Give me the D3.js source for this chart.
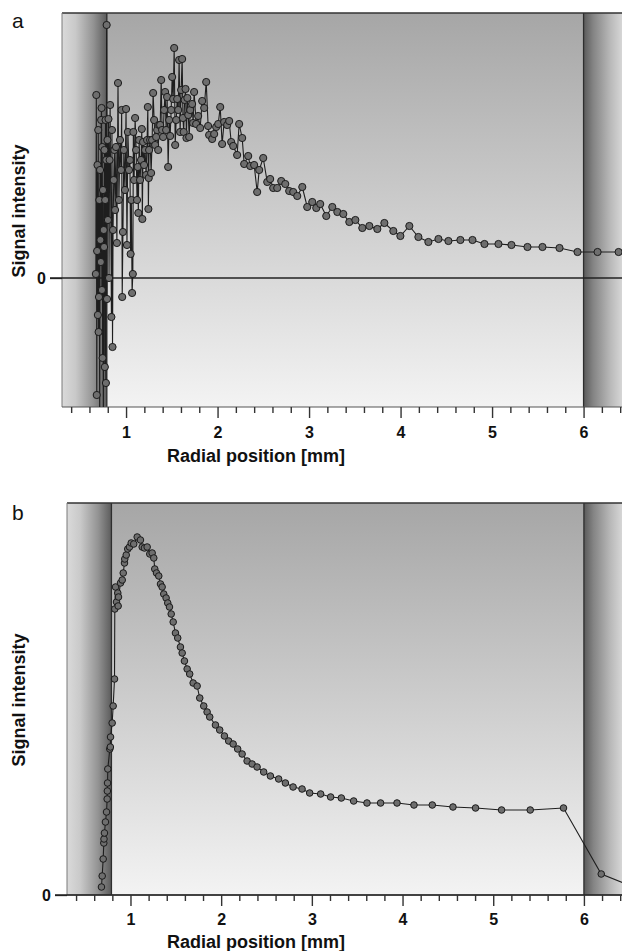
<!DOCTYPE html>
<html>
<head>
<meta charset="utf-8">
<title>Signal intensity profiles</title>
<script src="https://cdn.jsdelivr.net/npm/d3@7"></script>
<style>
  body { margin: 0; background: #fff; }
  svg { display: block; font-family: "Liberation Sans", Arial, sans-serif; }
</style>
</head>
<body>
<div id="chart"></div>
<script>
// values: radial position [mm], signal intensity [a.u.]
var radialA = [
  0.670,0.675,0.680,0.684,0.688,0.692,0.696,0.700,0.704,0.708,
  0.712,0.716,0.720,0.724,0.728,0.732,0.736,0.740,0.744,0.748,
  0.752,0.756,0.760,0.764,0.768,0.772,0.776,0.780,0.784,0.788,
  0.792,0.797,0.802,0.808,0.814,0.820,0.826,0.840,0.846,0.852,
  0.858,0.865,0.872,0.880,0.890,0.900,0.912,0.922,0.934,0.945,
  0.952,0.958,0.966,0.976,0.988,1.000,1.010,1.020,1.032,1.042,
  1.050,1.058,1.066,1.074,1.080,1.088,1.099,1.110,1.120,1.128,
  1.134,1.143,1.153,1.164,1.172,1.178,1.186,1.197,1.208,1.219,
  1.230,1.238,1.244,1.248,1.252,1.263,1.274,1.285,1.296,1.307,
  1.318,1.329,1.340,1.351,1.362,1.373,1.384,1.394,1.405,1.416,
  1.427,1.438,1.449,1.460,1.471,1.482,1.493,1.504,1.515,1.526,
  1.537,1.548,1.559,1.570,1.580,1.591,1.602,1.613,1.622,1.630,
  1.640,1.650,1.660,1.670,1.680,1.690,1.701,1.722,1.733,1.744,
  1.766,1.788,1.810,1.832,1.854,1.876,1.897,1.908,1.941,1.963,
  1.985,2.007,2.029,2.050,2.072,2.105,2.127,2.149,2.171,2.214,
  2.236,2.269,2.291,2.335,2.357,2.400,2.433,2.455,2.499,2.543,
  2.575,2.608,2.652,2.696,2.740,2.783,2.827,2.871,2.926,2.980,
  3.035,3.079,3.122,3.188,3.254,3.309,3.374,3.440,3.506,3.582,
  3.659,3.746,3.823,3.921,3.998,4.096,4.195,4.304,4.414,4.523,
  4.654,4.786,4.917,5.070,5.212,5.387,5.551,5.737,5.934,6.153,
  6.383
];
var signalA = [
  4,183,-117,27,113,-37,148,-54,-19,78,
  -160,108,38,16,158,170,-12,131,-80,88,
  -150,48,31,128,-89,78,158,-105,118,253,
  -21,138,58,159,0,118,173,-39,148,-69,
  48,98,128,68,131,35,195,78,138,108,
  168,-19,46,128,88,169,33,146,108,118,
  24,78,-15,4,146,98,160,128,78,111,
  65,138,98,118,149,59,136,113,128,103,
  138,171,69,100,128,138,105,138,185,158,
  133,141,148,128,153,153,198,148,141,168,
  186,148,181,111,158,142,168,201,179,230,
  133,158,179,168,218,146,188,219,160,146,
  178,189,140,180,163,141,168,174,155,186,
  154,162,150,177,170,196,152,143,139,144,
  151,154,171,134,156,153,157,136,132,123,
  154,140,114,122,112,113,86,108,120,96,
  99,90,90,97,94,87,86,82,91,71,
  76,70,74,62,71,66,64,56,58,50,
  52,49,55,47,42,52,41,36,39,37,
  38,38,34,34,33,31,31,30,26,26,
  26
];

var radialB = [
  0.680,0.688,0.699,0.706,0.708,0.713,0.724,0.736,0.743,0.745,
  0.747,0.750,0.772,0.778,0.780,0.798,0.809,0.824,0.827,0.835,
  0.846,0.860,0.864,0.868,0.890,0.909,0.920,0.934,0.937,0.953,
  0.970,0.989,1.008,1.036,1.074,1.110,1.129,1.154,1.184,1.213,
  1.239,1.257,1.268,1.287,1.312,1.331,1.349,1.367,1.393,1.411,
  1.430,1.449,1.471,1.496,1.521,1.551,1.570,1.595,1.625,1.653,
  1.691,1.735,1.764,1.808,1.845,1.874,1.937,1.984,2.036,2.083,
  2.132,2.182,2.231,2.286,2.341,2.396,2.469,2.543,2.634,2.708,
  2.793,2.892,2.976,3.097,3.207,3.325,3.461,3.608,3.758,3.939,
  4.126,4.328,4.556,4.805,5.092,5.408,5.775,6.191,6.599
];
var signalB = [
  8,19,36,52,56,62,73,83,96,104,
  112,126,146,148,158,172,189,216,286,308,
  293,302,289,298,312,315,322,332,336,340,
  346,348,352,351,358,355,348,347,348,341,
  342,337,326,322,319,311,308,301,297,292,
  288,281,273,262,257,248,242,234,226,221,
  212,209,197,189,183,178,170,165,159,154,
  151,146,141,134,131,128,123,119,116,112,
  108,106,102,101,98,97,94,92,92,92,
  90,90,88,87,85,85,87,21,6
];

var majorTicks = [1, 2, 3, 4, 5, 6];
var minorTicks = [0.4, 0.6, 0.8, 1.2, 1.4, 1.6, 1.8, 2.2, 2.4, 2.6, 2.8,
                  3.2, 3.4, 3.6, 3.8, 4.2, 4.4, 4.6, 4.8, 5.2, 5.4, 5.6, 5.8, 6.2, 6.4];
var bandEdges = [0.79, 6.0];
var xExtent = [0.3, 6.42];
var yTicks = [0];
var panelNames = ["a", "b"];
var xTitle = "Radial position [mm]";
var yTitle = "Signal intensity";

var W = 622, H = 951;

var svg = d3.select("#chart")
    .append("svg")
    .attr("width", W)
    .attr("height", H);

var defs = svg.append("defs");

function gradient(id, vertical, stops) {
    var gr = defs.append("linearGradient")
        .attr("id", id)
        .attr("x1", 0).attr("y1", 0)
        .attr("x2", vertical ? 0 : 1)
        .attr("y2", vertical ? 1 : 0);
    stops.forEach(function(s) {
        gr.append("stop").attr("offset", s[0]).attr("stop-color", s[1]);
    });
}
gradient("bgV", true, [[0, "#a6a6a6"], [1, "#f3f3f3"]]);
gradient("bandL", false, [[0, "#dadada"], [0.3, "#c9c9c9"], [0.7, "#939393"], [1, "#5c5c5c"]]);
gradient("bandR", false, [[0, "#5a5a5a"], [0.25, "#848484"], [0.7, "#b9b9b9"], [1, "#d6d6d6"]]);

var panels = [
    { name: panelNames[0], radial: radialA, signal: signalA,
      left: 62, top: 13, bottom: 407, yDomain: [-129, 265], r: 3.6,
      tickPad: 9, titleY: 462, yTitleY: 211 },
    { name: panelNames[1], radial: radialB, signal: signalB,
      left: 67, top: 503, bottom: 895, yDomain: [0, 392], r: 3.3,
      tickPad: 8, titleY: 948, yTitleY: 700 }
];

panels.forEach(function(p, i) {
    var x = d3.scaleLinear().domain(xExtent).range([p.left, W]);
    var y = d3.scaleLinear().domain(p.yDomain).range([p.bottom, p.top]);
    var g = svg.append("g");
    var yTop = y(p.yDomain[1]), yBot = y(p.yDomain[0]);

    // backgrounds
    g.append("rect")
        .attr("x", x(xExtent[0])).attr("y", yTop)
        .attr("width", x(xExtent[1]) - x(xExtent[0])).attr("height", yBot - yTop)
        .attr("fill", "url(#bgV)");
    g.append("rect")
        .attr("x", x(xExtent[0])).attr("y", yTop)
        .attr("width", x(bandEdges[0]) - x(xExtent[0])).attr("height", yBot - yTop)
        .attr("fill", "url(#bandL)");
    g.append("rect")
        .attr("x", x(bandEdges[1])).attr("y", yTop)
        .attr("width", x(xExtent[1]) - x(bandEdges[1])).attr("height", yBot - yTop)
        .attr("fill", "url(#bandR)");

    // band boundaries
    g.selectAll(".edge")
        .data(bandEdges)
        .enter()
        .append("line")
        .attr("x1", function(d) { return x(d); })
        .attr("x2", function(d) { return x(d); })
        .attr("y1", yTop).attr("y2", yBot)
        .attr("stroke", "#2e2e2e")
        .attr("stroke-width", 1.3);

    // frame
    g.append("line")
        .attr("x1", x(xExtent[0])).attr("x2", W)
        .attr("y1", yTop).attr("y2", yTop)
        .attr("stroke", "#333").attr("stroke-width", 1.3);
    g.append("line")
        .attr("x1", x(xExtent[0])).attr("x2", x(xExtent[0]))
        .attr("y1", yTop).attr("y2", yBot)
        .attr("stroke", "#7a7a7a").attr("stroke-width", 1);
    g.append("line")
        .attr("x1", x(xExtent[0])).attr("x2", W)
        .attr("y1", yBot).attr("y2", yBot)
        .attr("stroke", "#555").attr("stroke-width", 1.2);

    // zero line
    g.append("line")
        .attr("x1", x(xExtent[0]) - 12).attr("x2", W)
        .attr("y1", y(0)).attr("y2", y(0))
        .attr("stroke", "#222").attr("stroke-width", 1.5);

    // data
    var clipId = "clip" + i;
    defs.append("clipPath").attr("id", clipId)
        .append("rect")
        .attr("x", x(xExtent[0])).attr("y", yTop)
        .attr("width", W - x(xExtent[0])).attr("height", yBot - yTop);

    var pts = p.radial.map(function(d, k) { return { r: d, s: p.signal[k] }; });
    var data = g.append("g").attr("clip-path", "url(#" + clipId + ")");

    data.append("path")
        .datum(pts)
        .attr("fill", "none")
        .attr("stroke", "#1e1e1e")
        .attr("stroke-width", 1.1)
        .attr("d", d3.line()
            .x(function(d) { return x(d.r); })
            .y(function(d) { return y(d.s); }));

    data.selectAll("circle")
        .data(pts)
        .enter()
        .append("circle")
        .attr("cx", function(d) { return x(d.r); })
        .attr("cy", function(d) { return y(d.s); })
        .attr("r", p.r)
        .attr("fill", "#6e6e6e")
        .attr("stroke", "#1a1a1a")
        .attr("stroke-width", 1);

    // x axis: minor and major ticks
    var ax = g.append("g").attr("transform", "translate(0," + yBot + ")");
    ax.append("g")
        .call(d3.axisBottom(x).tickValues(minorTicks).tickSize(6).tickFormat(""))
        .call(function(s) { s.select(".domain").remove(); });
    ax.append("g")
        .call(d3.axisBottom(x).tickValues(majorTicks).tickSize(11).tickPadding(p.tickPad)
            .tickFormat(d3.format("d")))
        .call(function(s) { s.select(".domain").remove(); });
    ax.selectAll("line").attr("stroke", "#333").attr("stroke-width", 1.4);
    ax.selectAll("text")
        .attr("fill", "#111")
        .style("font-size", "16px")
        .style("font-weight", "bold")
        .style("font-family", "'Liberation Sans', Arial, sans-serif");

    // y axis: only zero
    var ay = g.append("g")
        .attr("transform", "translate(" + x(xExtent[0]) + ",0)")
        .call(d3.axisLeft(y).tickValues(yTicks).tickSize(12).tickPadding(4).tickFormat(d3.format("d")));
    ay.select(".domain").remove();
    ay.selectAll("line").attr("stroke", "#222").attr("stroke-width", 1.3);
    ay.selectAll("text")
        .attr("fill", "#111")
        .style("font-size", "16px")
        .style("font-weight", "bold")
        .style("font-family", "'Liberation Sans', Arial, sans-serif");

    // titles
    g.append("text")
        .attr("x", 256).attr("y", p.titleY)
        .attr("text-anchor", "middle")
        .style("font-size", "18px")
        .style("font-weight", "bold")
        .attr("fill", "#111")
        .text(xTitle);

    g.append("text")
        .attr("transform", "translate(25," + p.yTitleY + ") rotate(-90)")
        .attr("text-anchor", "middle")
        .style("font-size", "18px")
        .style("font-weight", "bold")
        .attr("fill", "#111")
        .text(yTitle);

    g.append("text")
        .attr("x", 12).attr("y", i === 0 ? 28 : 520)
        .style("font-size", "21px")
        .attr("fill", "#111")
        .text(p.name);
});
</script>
</body>
</html>
